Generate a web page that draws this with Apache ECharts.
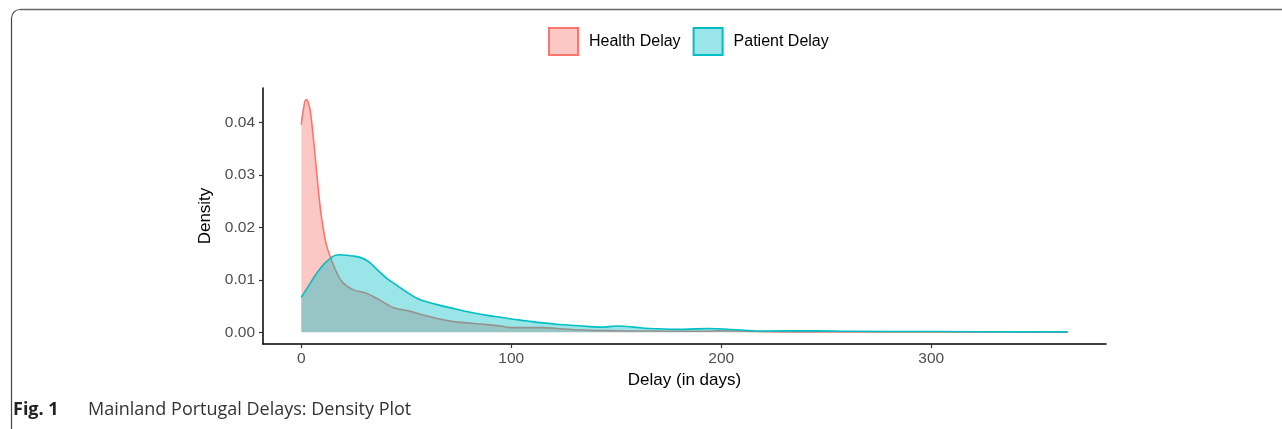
<!DOCTYPE html>
<html>
<head>
<meta charset="utf-8">
<script src="https://cdn.jsdelivr.net/npm/echarts@6/dist/echarts.min.js"></script>
<style>
html,body{margin:0;padding:0;background:#fff;}
#chart{width:1282px;height:429px;}
</style>
</head>
<body>
<div id="chart"></div>
<script>
const seriesNames = ['Health Delay', 'Patient Delay'];
const xTicks = [0, 100, 200, 300];
const yTicks = [0, 0.01, 0.02, 0.03, 0.04];

const healthDays = [0, 1, 2.3, 3.3, 4.3, 5.9, 7.4, 9, 10.6, 12.2, 14.1, 17, 20, 25, 30, 34, 38, 41, 44, 52, 58, 63, 70, 76, 88, 95, 100, 115, 123, 134, 150, 166, 190, 200, 210, 230, 260, 300, 365];
const healthDensity = [0.0396, 0.0425, 0.0444, 0.0438, 0.0421, 0.0364, 0.0301, 0.0238, 0.0194, 0.0163, 0.0141, 0.0113, 0.0094, 0.0081, 0.0076, 0.0069, 0.0060, 0.0053, 0.0047, 0.0040, 0.0033, 0.0028, 0.0022, 0.0019, 0.0015, 0.0012, 0.0009, 0.0009, 0.0007, 0.00045, 0.0003, 0.00025, 0.0002, 0.0003, 0.0002, 0.0001, 0.0001, 0.00008, 0.00005];

const patientDays = [0, 4.3, 9, 13.8, 17.7, 23.3, 28, 32, 36, 40.7, 45, 48.6, 55, 60, 67.6, 75, 83.5, 91, 99.3, 107, 115, 123, 134, 142, 151, 158, 166, 182, 194, 207, 221, 245, 261, 300, 340, 365];
const patientDensity = [0.0067, 0.0094, 0.0122, 0.0141, 0.0148, 0.0146, 0.0143, 0.0135, 0.0120, 0.0103, 0.0091, 0.0081, 0.0065, 0.0058, 0.0050, 0.0043, 0.0036, 0.0031, 0.0026, 0.0022, 0.0018, 0.0015, 0.0012, 0.0010, 0.0012, 0.0010, 0.00075, 0.00057, 0.00075, 0.0005, 0.00025, 0.0003, 0.0002, 0.00015, 0.0001, 0.0001];

const pair = (xs, ys) => xs.map((x, i) => [x, ys[i]]);
const FONT = '"Liberation Sans", Arial, sans-serif';
const CAP = '"Open Sans", "Liberation Sans", sans-serif';

const chart = echarts.init(document.getElementById('chart'));
chart.setOption({
  animation: false,
  backgroundColor: '#fff',
  title: {
    left: 8, top: 396,
    text: '{b|Fig. 1}{n|Mainland Portugal Delays: Density Plot}',
    textStyle: {
      fontWeight: 'normal',
      rich: {
        b: {fontFamily: CAP, fontWeight: 'bold', fontSize: 18, color: '#222', width: 75},
        n: {fontFamily: CAP, fontWeight: 'normal', fontSize: 18, color: '#333'}
      }
    }
  },
  graphic: [
    {type: 'line', silent: true, shape: {x1: 20, y1: 9.5, x2: 1282, y2: 9.5}, style: {stroke: '#666', lineWidth: 1.3}},
    {type: 'line', silent: true, shape: {x1: 11.5, y1: 18, x2: 11.5, y2: 429}, style: {stroke: '#444', lineWidth: 1.2}},
    {type: 'arc', silent: true, shape: {cx: 20, cy: 18, r: 8.5, startAngle: Math.PI, endAngle: Math.PI * 1.5, clockwise: true}, style: {stroke: '#555', lineWidth: 1.2, fill: null}}
  ],
  legend: {
    left: 543, top: 22,
    itemWidth: 29, itemHeight: 27, itemGap: 12,
    icon: 'rect',
    textStyle: {fontFamily: FONT, fontSize: 16, color: '#000', padding: [0, 0, 0, 6]},
    data: [
      {name: seriesNames[0], itemStyle: {color: 'rgba(248,118,109,0.4)', borderColor: '#F8766D', borderWidth: 2}},
      {name: seriesNames[1], itemStyle: {color: 'rgba(0,191,196,0.4)', borderColor: '#00BFC4', borderWidth: 2}}
    ]
  },
  grid: {left: 263, right: 176, top: 88, bottom: 85, containLabel: false},
  xAxis: {
    type: 'value',
    min: -18.25, max: 383.25,
    name: 'Delay (in days)', nameLocation: 'middle', nameGap: 28,
    nameTextStyle: {fontFamily: FONT, fontSize: 17, color: '#000'},
    splitLine: {show: false},
    axisLine: {show: true, onZero: false, lineStyle: {color: '#000', width: 1.5}},
    axisTick: {show: true, length: 4, customValues: xTicks, lineStyle: {color: '#333', width: 1.2}},
    axisLabel: {customValues: xTicks, fontFamily: FONT, fontSize: 15.5, color: '#4D4D4D', margin: 7}
  },
  yAxis: {
    type: 'value',
    min: -0.00222, max: 0.0466,
    name: 'Density', nameLocation: 'middle', nameGap: 48, nameRotate: 90,
    nameTextStyle: {fontFamily: FONT, fontSize: 17, color: '#000'},
    splitLine: {show: false},
    axisLine: {show: true, onZero: false, lineStyle: {color: '#000', width: 1.5}},
    axisTick: {show: true, length: 4, customValues: yTicks, lineStyle: {color: '#333', width: 1.2}},
    axisLabel: {customValues: yTicks, fontFamily: FONT, fontSize: 15.5, color: '#4D4D4D', margin: 8,
      formatter: v => v.toFixed(2)}
  },
  series: [
    {
      name: seriesNames[0], type: 'line', data: pair(healthDays, healthDensity),
      z: 2, smooth: 0.5, showSymbol: false,
      lineStyle: {color: '#F8766D', width: 1.6},
      itemStyle: {color: '#F8766D'},
      areaStyle: {color: '#F8766D', opacity: 0.4, origin: 0}
    },
    {
      name: seriesNames[1], type: 'line', data: pair(patientDays, patientDensity),
      z: 3, smooth: 0.5, showSymbol: false,
      lineStyle: {color: '#00BFC4', width: 1.6},
      itemStyle: {color: '#00BFC4'},
      areaStyle: {color: '#00BFC4', opacity: 0.4, origin: 0}
    }
  ]
});
</script>
</body>
</html>
